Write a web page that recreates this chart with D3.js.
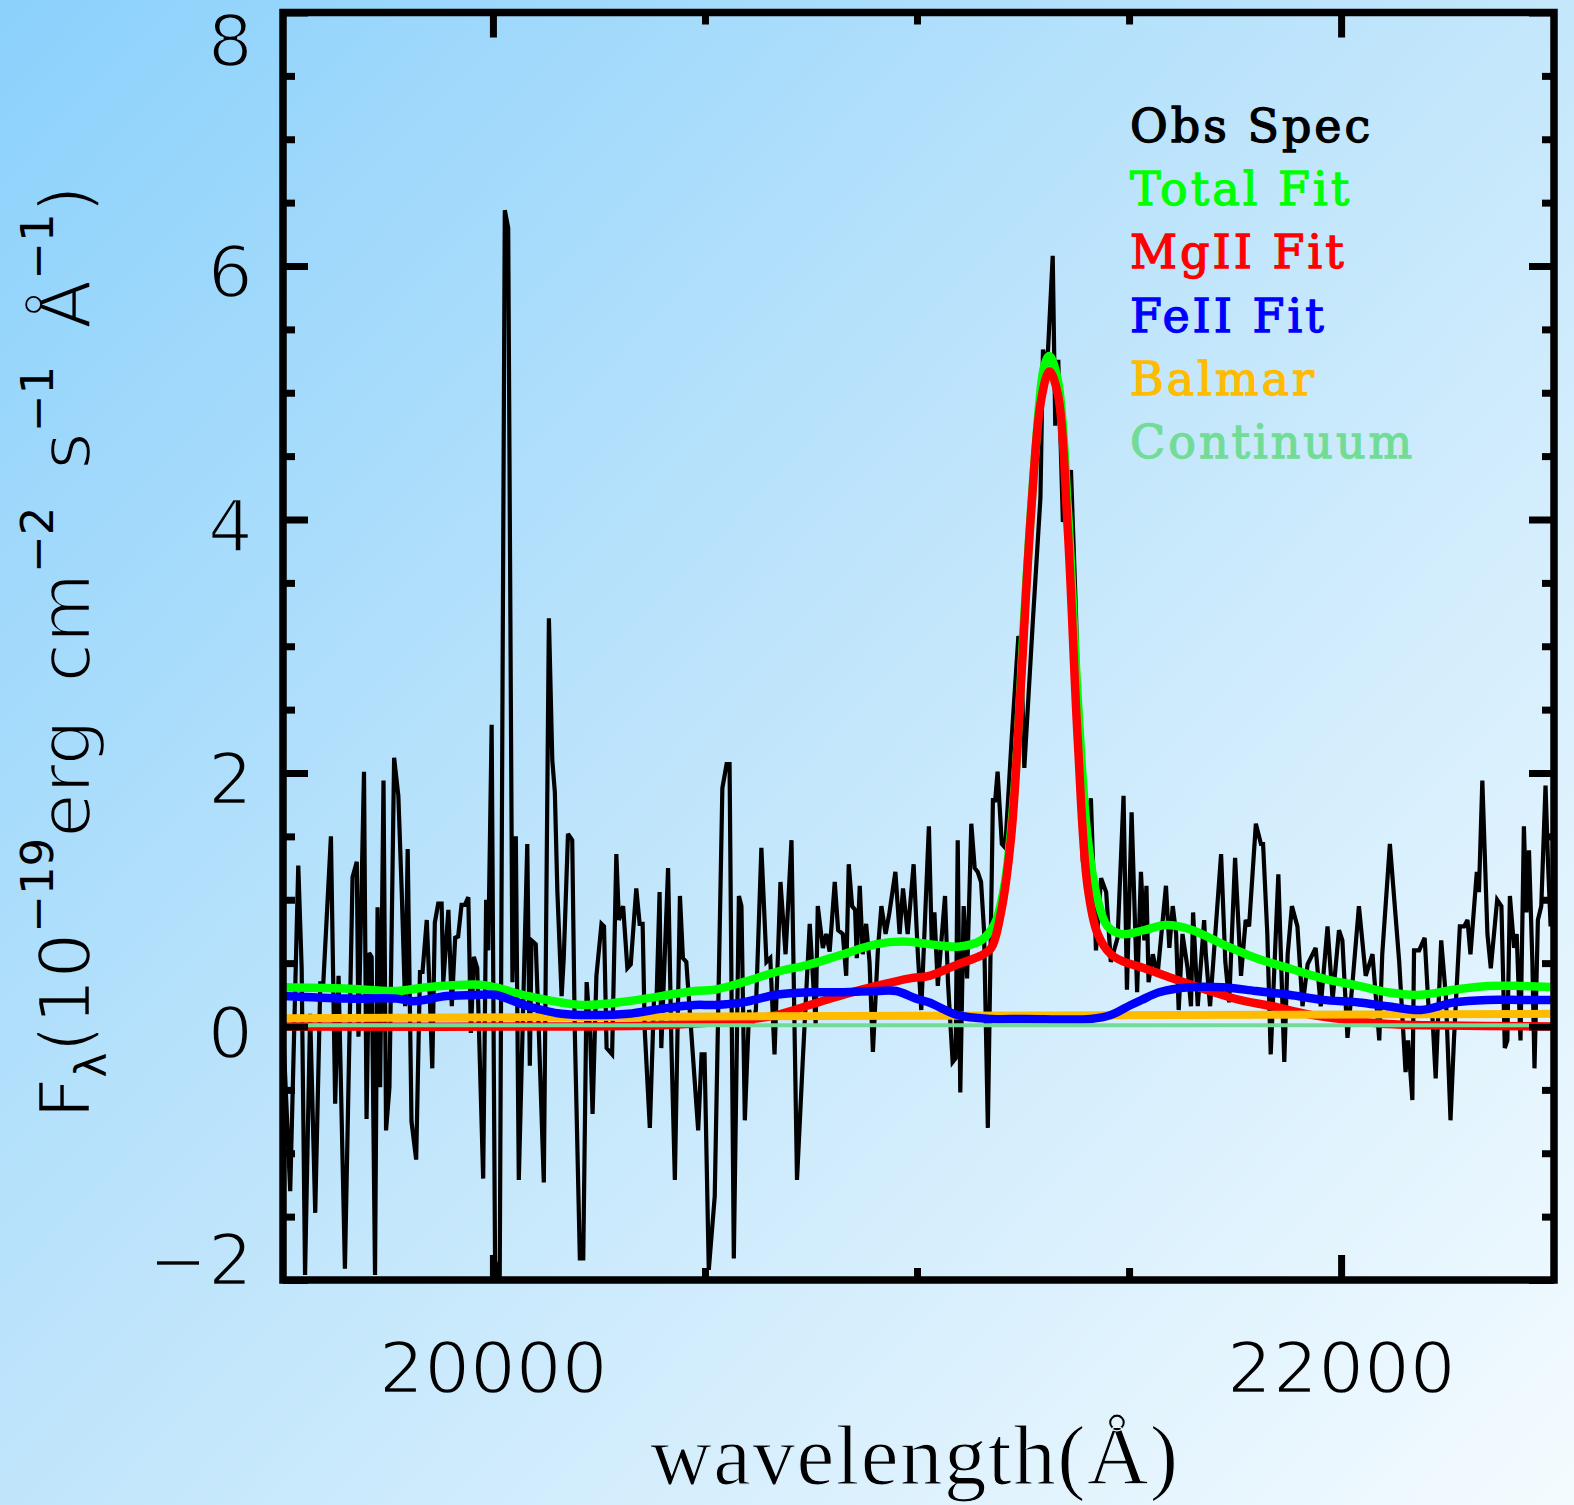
<!DOCTYPE html>
<html><head><meta charset="utf-8">
<script src="https://cdn.jsdelivr.net/npm/d3@7"></script>
<style>html,body{margin:0;padding:0;background:#fff;} svg{display:block}</style>
</head><body>
<svg id="chart" width="1574" height="1505"></svg>
<script>
// ---------------- DATA ----------------
const obsWave = [19506,19522,19541,19549,19557,19569,19581,19593,19600,19618,19628,19636,19651,19669,19679,19683,19696,19702,19708,19714,19722,19728,19734,19742,19748,19756,19767,19777,19785,19793,19799,19808,19819,19828,19834,19844,19850,19857,19863,19871,19879,19883,19895,19903,19911,19918,19926,19934,19942,19948,19955,19963,19977,19984,19989,19997,20005,20016,20028,20036,20046,20054,20061,20081,20087,20091,20101,20107,20120,20132,20140,20146,20152,20162,20167,20177,20187,20193,20205,20213,20221,20229,20235,20244,20256,20262,20268,20281,20291,20297,20307,20317,20325,20338,20346,20353,20358,20370,20380,20386,20393,20397,20413,20421,20429,20441,20448,20456,20484,20492,20499,20509,20523,20541,20551,20558,20568,20580,20586,20594,20604,20612,20620,20633,20645,20654,20664,20678,20690,20704,20717,20730,20747,20761,20766,20778,20786,20794,20806,20814,20825,20833,20839,20847,20854,20858,20865,20872,20880,20888,20896,20908,20916,20926,20935,20949,20959,20967,20978,20992,21002,21010,21028,21035,21041,21049,21066,21073,21084,21091,21096,21102,21110,21118,21128,21136,21143,21151,21158,21167,21179,21184,21190,21200,21208,21223,21239,21245,21253,21273,21291,21297,21307,21320,21326,21333,21344,21363,21375,21391,21410,21422,21434,21446,21457,21473,21487,21495,21506,21519,21528,21536,21541,21546,21556,21567,21587,21595,21603,21611,21617,21626,21638,21646,21651,21662,21677,21681,21691,21717,21727,21736,21750,21764,21775,21783,21799,21811,21816,21826,21834,21852,21866,21874,21884,21897,21909,21921,21940,21952,21968,21980,21995,22003,22015,22027,22042,22058,22074,22090,22097,22115,22137,22152,22158,22168,22172,22184,22197,22207,22215,22223,22236,22247,22258,22266,22280,22290,22298,22305,22320,22325,22333,22345,22353,22368,22378,22386,22392,22398,22408,22414,22423,22431,22437,22443,22451,22456,22464,22472,22482,22488,22494,22502];
const obsFlux = [-0.08,-1.30,1.27,0.46,-1.96,0.10,-1.47,0.34,0.34,1.50,-0.61,0.40,-1.91,1.18,1.30,-0.08,2.01,-0.73,0.58,0.55,-1.96,0.94,-0.48,1.94,-0.82,-0.48,2.12,1.82,1.06,0.16,1.40,-0.75,-1.05,0.43,0.43,0.84,0.34,-0.33,0.82,0.97,0.97,0.35,0.92,0.16,0.70,0.71,0.96,0.96,1.02,-0.05,0.55,0.46,-1.20,1.00,0.60,2.38,-1.85,-2.00,6.44,6.30,0.35,1.50,-1.21,1.44,-0.31,0.68,0.65,0.08,-1.23,3.22,2.10,1.85,1.06,0.24,0.54,1.52,1.47,-0.03,-1.83,-1.83,0.35,-0.03,-0.69,0.40,0.81,0.79,-0.17,-0.22,1.36,0.84,0.95,0.46,0.49,1.09,0.81,0.81,-0.03,-0.80,0.24,0.24,1.06,-0.17,1.25,-0.17,-1.21,1.03,0.54,0.51,-0.82,-0.22,-0.22,-1.92,-1.34,1.88,2.07,2.07,-1.83,1.03,0.95,-0.74,0.13,0.02,0.13,1.41,0.51,0.54,-0.22,1.14,0.57,1.47,-1.21,-0.31,0.81,0.02,0.95,0.62,0.73,0.59,1.14,0.76,0.73,0.40,1.28,0.95,0.92,0.54,1.11,0.57,0.81,0.51,-0.20,0.62,0.95,0.73,0.90,1.22,0.73,1.09,0.73,1.28,0.57,0.13,1.58,0.62,0.90,0.32,1.03,0.35,-0.28,-0.25,1.47,-0.52,0.95,0.38,1.60,1.25,1.22,1.14,0.76,-0.80,1.80,1.77,2.01,1.44,1.41,2.26,3.08,3.02,2.04,3.19,4.17,5.34,5.21,6.08,4.74,5.26,3.98,4.39,3.24,1.30,1.80,0.60,1.17,1.06,0.51,0.70,1.82,0.29,1.69,0.27,1.22,0.68,1.11,0.35,0.57,0.40,1.11,0.62,0.95,0.73,0.13,0.73,0.46,0.16,0.90,0.16,0.84,0.57,0.16,1.36,0.51,0.19,1.33,0.40,0.84,0.79,1.60,1.44,1.44,0.73,-0.22,1.20,-0.28,0.57,0.95,0.79,0.16,0.49,0.62,0.16,0.79,0.21,0.76,0.68,-0.09,0.35,0.95,0.40,0.57,-0.11,0.57,1.44,0.51,-0.36,-0.11,-0.58,0.60,0.60,0.70,0.10,0.10,-0.41,0.68,0.24,-0.74,-0.11,0.79,0.79,0.84,0.57,1.22,1.06,1.94,0.73,0.46,1.00,0.95,-0.17,-0.11,1.03,0.62,0.73,-0.11,1.58,0.90,1.39,0.51,-0.33,0.84,0.95,1.90,1.28,0.79,1.10];

const totalWave = [19506,19650,19773,19844,19969,20005,20083,20209,20319,20397,20476,20523,20590,20668,20747,20825,20904,20967,21029,21096,21151,21183,21206,21230,21253,21277,21300,21312,21332,21355,21379,21402,21426,21449,21481,21536,21587,21650,21720,21799,21877,21956,22042,22109,22188,22266,22345,22423,22502];
const totalFlux = [0.31,0.30,0.28,0.31,0.33,0.31,0.24,0.17,0.20,0.24,0.28,0.29,0.35,0.43,0.49,0.57,0.65,0.67,0.65,0.63,0.68,0.81,1.11,1.88,3.24,4.44,5.21,5.29,5.10,4.12,2.59,1.50,1.00,0.79,0.73,0.76,0.80,0.76,0.65,0.54,0.46,0.38,0.32,0.27,0.25,0.29,0.32,0.32,0.31];

const mg2Wave = [19506,20200,20400,20511,20590,20668,20747,20825,20904,20983,21029,21096,21151,21175,21198,21222,21245,21269,21292,21312,21332,21355,21379,21402,21426,21457,21489,21536,21602,21681,21760,21838,21917,21995,22042,22109,22200,22502];
const mg2Flux = [0.00,0.00,0.01,0.03,0.05,0.09,0.17,0.25,0.32,0.38,0.40,0.49,0.56,0.62,0.90,1.50,2.70,4.06,4.93,5.17,4.99,3.95,2.26,1.11,0.73,0.57,0.51,0.46,0.38,0.29,0.21,0.16,0.10,0.06,0.04,0.02,0.01,0.00];

const fe2Wave = [19506,19655,19773,19812,19891,19970,20005,20083,20162,20240,20319,20397,20476,20523,20590,20668,20747,20825,20904,20951,20998,21029,21096,21175,21253,21410,21457,21504,21530,21571,21642,21720,21799,21877,21956,22042,22109,22188,22266,22345,22423,22502];
const fe2Flux = [0.24,0.22,0.22,0.20,0.24,0.25,0.25,0.16,0.10,0.09,0.10,0.14,0.17,0.17,0.19,0.25,0.27,0.27,0.28,0.28,0.22,0.19,0.09,0.06,0.06,0.06,0.09,0.17,0.21,0.27,0.31,0.31,0.28,0.25,0.21,0.19,0.16,0.13,0.19,0.21,0.21,0.21];

const balmerWave = [19506,21000,22502];
const balmerFlux = [0.065,0.085,0.10];

const contWave = [19506,22502];
const contFlux = [0.01,0.01];

const xMajorTicks = [20000,22000];
const xMinorTicks = [20500,21000,21500];
const yMajorTicks = [-2,0,2,4,6,8];
const yMinorTicks = [-1.5,-1,-0.5,0.5,1,1.5,2.5,3,3.5,4.5,5,5.5,6.5,7,7.5];

const legendLabels = ["Obs Spec","Total Fit","MgII Fit","FeII Fit","Balmar","Continuum"];
const legendColors = ["#000000","#00ff00","#ff0000","#0000ff","#ffbb00","#72dc96"];

// ---------------- DRAW ----------------
const W = 1574, H = 1505;
const M = {left:283, right:1554, top:12.5, bottom:1280};
const x = d3.scaleLinear().domain([19505,22502]).range([M.left, M.right]);
const y = d3.scaleLinear().domain([-2,8]).range([M.bottom, M.top]);

const svg = d3.select('#chart');
const defs = svg.append('defs');
function addGrad(id, transform){
  const g = defs.append('linearGradient').attr('id', id)
    .attr('gradientUnits','userSpaceOnUse')
    .attr('x1',0).attr('y1',0).attr('x2',W).attr('y2',H);
  if (transform) g.attr('gradientTransform', transform);
  [[0,'#8bd1fc'],[0.45,'#bde4fb'],[1,'#f4fbff']].forEach(s=>
    g.append('stop').attr('offset',s[0]).attr('stop-color',s[1]));
}
addGrad('bg');
addGrad('bgR','rotate(90) translate(-90,-652)');

svg.append('rect').attr('width',W).attr('height',H).attr('fill','url(#bg)');

defs.append('clipPath').attr('id','clip').append('rect')
  .attr('x',M.left).attr('y',M.top).attr('width',M.right-M.left).attr('height',M.bottom-M.top);

const plot = svg.append('g').attr('clip-path','url(#clip)');
const zip = (a,b)=>a.map((v,i)=>[v,b[i]]);
const straight = d3.line().x(d=>x(d[0])).y(d=>y(d[1]));
const smooth = d3.line().x(d=>x(d[0])).y(d=>y(d[1])).curve(d3.curveCatmullRom.alpha(0.5));

plot.append('path').datum(zip(obsWave,obsFlux)).attr('d',straight)
  .attr('fill','none').attr('stroke','#000').attr('stroke-width',4.2).attr('stroke-linejoin','miter').attr('stroke-miterlimit',3);

const fits = [
  {w:totalWave, f:totalFlux, c:legendColors[1], sw:8.5},
  {w:mg2Wave, f:mg2Flux, c:legendColors[2], sw:8.5},
  {w:balmerWave, f:balmerFlux, c:legendColors[4], sw:8},
  {w:fe2Wave, f:fe2Flux, c:legendColors[3], sw:8.5},
  {w:contWave, f:contFlux, c:legendColors[5], sw:4}
];
fits.forEach(s=>{
  plot.append('path').datum(zip(s.w,s.f)).attr('d',smooth)
    .attr('fill','none').attr('stroke',s.c).attr('stroke-width',s.sw)
    .attr('stroke-linejoin','round');
});

// axes ticks
function ticks(axis, transform){
  const g = svg.append('g').attr('transform',transform).call(axis);
  g.select('.domain').remove();
  g.selectAll('.tick line').attr('stroke','#000').attr('stroke-width',7);
  g.selectAll('.tick text').remove();
}
ticks(d3.axisLeft(y).tickValues(yMajorTicks).tickSize(-25), `translate(${M.left},0)`);
ticks(d3.axisLeft(y).tickValues(yMinorTicks).tickSize(-12), `translate(${M.left},0)`);
ticks(d3.axisRight(y).tickValues(yMajorTicks).tickSize(-25), `translate(${M.right},0)`);
ticks(d3.axisRight(y).tickValues(yMinorTicks).tickSize(-12), `translate(${M.right},0)`);
ticks(d3.axisBottom(x).tickValues(xMajorTicks).tickSize(-25), `translate(0,${M.bottom})`);
ticks(d3.axisBottom(x).tickValues(xMinorTicks).tickSize(-12), `translate(0,${M.bottom})`);
ticks(d3.axisTop(x).tickValues(xMajorTicks).tickSize(-25), `translate(0,${M.top})`);
ticks(d3.axisTop(x).tickValues(xMinorTicks).tickSize(-12), `translate(0,${M.top})`);

// frame
svg.append('rect').attr('x',M.left).attr('y',M.top)
  .attr('width',M.right-M.left).attr('height',M.bottom-M.top)
  .attr('fill','none').attr('stroke','#000').attr('stroke-width',7.5);

const labelFont = "'DejaVu Sans', sans-serif";
const fmt = d3.format('d');
// y tick labels
svg.append('g').selectAll('text').data(yMajorTicks).join('text')
  .attr('x',253)
  .attr('y',d=>Math.max(M.top+53, Math.min(M.bottom+5, y(d)+31)))
  .attr('text-anchor','end')
  .attr('font-family',labelFont).attr('font-size',71)
  .attr('fill','#000').attr('stroke','url(#bg)').attr('stroke-width',2.4)
  .text(d=>fmt(d));
// x tick labels
svg.append('g').selectAll('text').data(xMajorTicks).join('text')
  .attr('x',d=>x(d)).attr('y',1393)
  .attr('text-anchor','middle')
  .attr('font-family',labelFont).attr('font-size',72)
  .attr('fill','#000').attr('stroke','url(#bg)').attr('stroke-width',2.4)
  .text(d=>fmt(d));

// x title
svg.append('text').attr('x',915).attr('y',1484).attr('text-anchor','middle')
  .attr('font-family',"'Liberation Serif', serif").attr('font-size',85)
  .attr('letter-spacing',1.5)
  .attr('fill','#000').attr('stroke','url(#bg)').attr('stroke-width',1.2)
  .text('wavelength(Å)');

// y title
const yt = svg.append('g').attr('transform','translate(90,652) rotate(-90)')
  .append('text').attr('text-anchor','middle')
  .attr('font-family',labelFont).attr('font-size',72).attr('word-spacing',14)
  .attr('fill','#000').attr('stroke','url(#bgR)').attr('stroke-width',2.4);
const parts = [
  {t:'F'},
  {t:'λ', sub:true},
  {t:'(10'},
  {t:'−19', sup:true},
  {t:'erg cm'},
  {t:'−2', sup:true},
  {t:' s'},
  {t:'−1', sup:true},
  {t:' Å'},
  {t:'−1', sup:true},
  {t:')'}
];
parts.forEach(p=>{
  const ts = yt.append('tspan').text(p.t);
  if (p.sup){ ts.attr('font-size',45).attr('dy',-37).attr('stroke','none'); }
  else if (p.sub){ ts.attr('font-size',42).attr('dy',16).attr('stroke','none'); }
  else { ts.attr('dy', 0); }
  p.node = ts;
});
parts.forEach((p,i)=>{
  if (i>0 && (parts[i-1].sup || parts[i-1].sub)) {
    p.node.attr('dy', parts[i-1].sup ? 37 : -16);
  }
});

// legend
svg.append('g').selectAll('text').data(legendLabels).join('text')
  .attr('x',1130).attr('y',(d,i)=>141.7 + i*63.3)
  .attr('font-family',"'DejaVu Serif', serif").attr('font-size',46)
  .attr('letter-spacing',3)
  .attr('fill',(d,i)=>legendColors[i])
  .attr('stroke',(d,i)=>legendColors[i]).attr('stroke-width',1.3)
  .text(d=>d);
</script>
</body></html>
